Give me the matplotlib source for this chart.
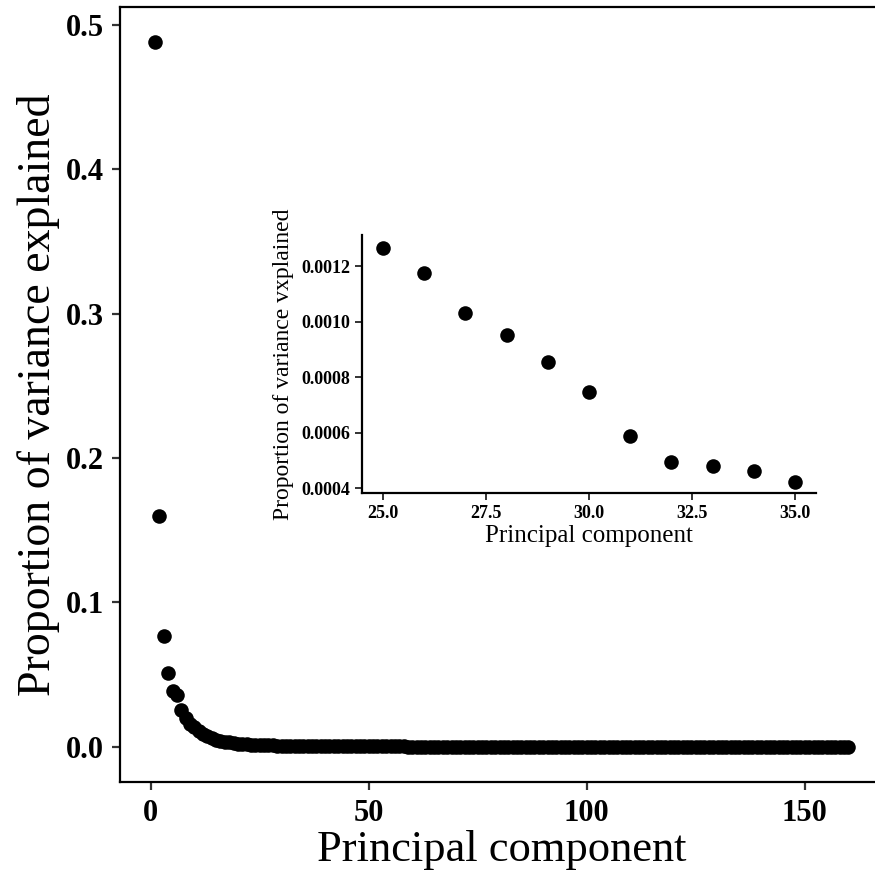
import numpy as np
import matplotlib
matplotlib.use("Agg")
import matplotlib.pyplot as plt
from matplotlib.ticker import FormatStrFormatter

plt.rcParams['font.family'] = ['Liberation Serif', 'DejaVu Serif']

# proportion of variance explained
pve_1_24 = [0.488, 0.160, 0.0765, 0.0508, 0.0388, 0.0358, 0.0254, 0.0200,
            0.0160, 0.0135, 0.0112, 0.0090, 0.0072, 0.0060, 0.0050, 0.0042,
            0.0035, 0.0030, 0.0026, 0.0022, 0.0019, 0.0017, 0.0015, 0.0014]
# inset range (PC 25-35)
inset_pc = [25, 26, 27, 28, 29, 30, 31, 32, 33, 34, 35]
inset_pve = [0.001266, 0.0011765, 0.001032, 0.000953, 0.000854, 0.000747,
             0.000588, 0.000494, 0.000479, 0.000462, 0.000424]
# tail (PC 36-160), all close to zero
pve_36_160 = [
    0.00040, 0.00038, 0.00037, 0.00035, 0.00034, 0.00033, 0.00031, 0.00030, 0.00029, 0.00028,
    0.00027, 0.00026, 0.00025, 0.00024, 0.00023, 0.00022, 0.00021, 0.00021, 0.00020, 0.00019,
    0.00018, 0.00018, 0.00017, 0.00016, 0.00016, 0.00015, 0.00015, 0.00014, 0.00014, 0.00013,
    0.00013, 0.00012, 0.00012, 0.00011, 0.00011, 0.00011, 0.00010, 0.00010, 0.00010, 0.00009,
    0.00009, 0.00009, 0.00008, 0.00008, 0.00008, 0.00008, 0.00007, 0.00007, 0.00007, 0.00007,
    0.00006, 0.00006, 0.00006, 0.00006, 0.00006, 0.00005, 0.00005, 0.00005, 0.00005, 0.00005,
    0.00005, 0.00004, 0.00004, 0.00004, 0.00004, 0.00004, 0.00004, 0.00004, 0.00003, 0.00003,
    0.00003, 0.00003, 0.00003, 0.00003, 0.00003, 0.00003, 0.00003, 0.00002, 0.00002, 0.00002,
    0.00002, 0.00002, 0.00002, 0.00002, 0.00002, 0.00002, 0.00002, 0.00002, 0.00002, 0.00001,
    0.00001, 0.00001, 0.00001, 0.00001, 0.00001, 0.00001, 0.00001, 0.00001, 0.00001, 0.00001,
    0.00001, 0.00001, 0.00001, 0.00001, 0.00001, 0.00001, 0.00001, 0.00001, 0.00001, 0.00001,
    0.00001, 0.00000, 0.00000, 0.00000, 0.00000, 0.00000, 0.00000, 0.00000, 0.00000, 0.00000,
    0.00000, 0.00000, 0.00000, 0.00000, 0.00000]

pve = np.array(pve_1_24 + inset_pve + pve_36_160)
pc = np.arange(1, len(pve) + 1)

fig = plt.figure(figsize=(8.75, 8.8), dpi=100)

# main panel
ax = fig.add_axes([0.1376, 0.1114, 0.8716, 0.8806])
ax.scatter(pc, pve, s=110, color='black', linewidths=0, zorder=3)
ax.set_xlim(-6.95, 167.95)
ax.set_ylim(-0.0244, 0.5124)
ax.set_xticks([0, 50, 100, 150])
ax.set_yticks([0.0, 0.1, 0.2, 0.3, 0.4, 0.5])
ax.yaxis.set_major_formatter(FormatStrFormatter('%.1f'))
for sp in ax.spines.values():
    sp.set_linewidth(1.6)
ax.tick_params(length=6, width=1.6, color='#333333', labelsize=22, pad=6)
for lab in ax.get_xticklabels() + ax.get_yticklabels():
    lab.set_fontweight('bold')
ax.set_xlabel('Principal component', fontsize=32, labelpad=2)
ax.set_ylabel('Proportion of variance explained', fontsize=33, labelpad=4)

# inset
axin = fig.add_axes([0.4142, 0.4398, 0.518, 0.2932])
axin.scatter(inset_pc, inset_pve, s=110, color='black', linewidths=0, zorder=3)
axin.set_xlim(24.5, 35.5)
axin.set_ylim(0.000383, 0.001312)
axin.set_xticks([25.0, 27.5, 30.0, 32.5, 35.0])
axin.set_yticks([0.0004, 0.0006, 0.0008, 0.0010, 0.0012])
axin.xaxis.set_major_formatter(FormatStrFormatter('%.1f'))
axin.yaxis.set_major_formatter(FormatStrFormatter('%.4f'))
axin.spines['top'].set_visible(False)
axin.spines['right'].set_visible(False)
for side in ['left', 'bottom']:
    axin.spines[side].set_linewidth(1.6)
axin.tick_params(length=5, width=1.4, color='#333333', labelsize=13, pad=4)
for lab in axin.get_xticklabels() + axin.get_yticklabels():
    lab.set_fontweight('bold')
axin.set_xlabel('Principal component', fontsize=18, labelpad=2)
axin.set_ylabel('Proportion of variance vxplained', fontsize=17, labelpad=5)

fig.savefig('out.png', dpi=100)
